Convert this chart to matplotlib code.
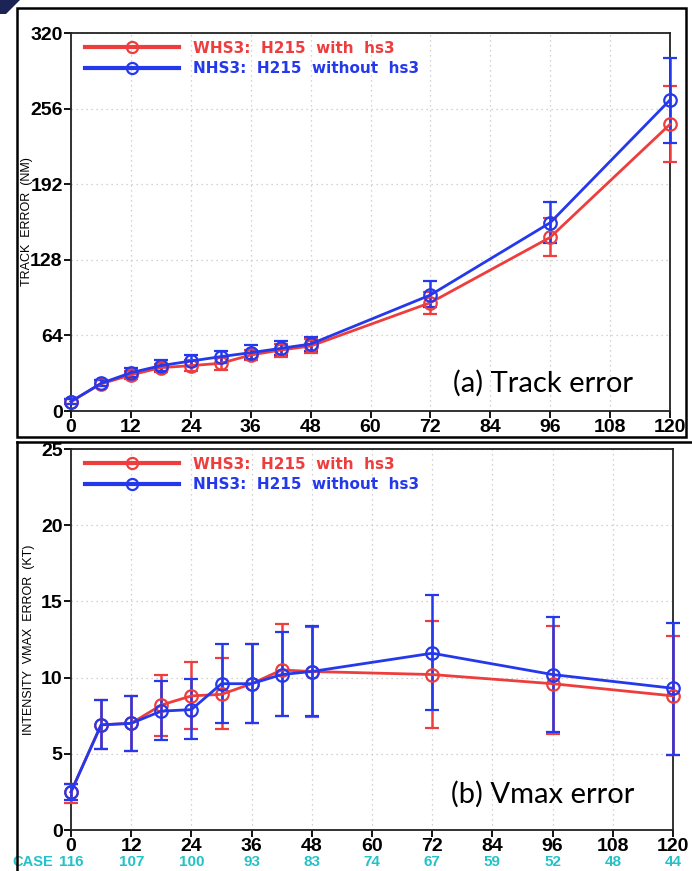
import matplotlib.pyplot as plt
from matplotlib.patches import Rectangle, Polygon
from matplotlib.lines import Line2D
from matplotlib.transforms import blended_transform_factory

# forecast hours
hours = [0, 6, 12, 18, 24, 30, 36, 42, 48, 72, 96, 120]

# (a) track error (NM)
trk_whs3 = [8, 23, 30.5, 36.7, 38.4, 40.4, 47.4, 51.6, 55, 91.7, 147, 242.7]
trk_whs3_lo = [6, 21, 27, 33, 34, 35, 43, 46, 49, 82, 131, 211]
trk_whs3_hi = [10, 26, 34, 40, 43, 46, 52, 57, 61, 101, 163, 275]
trk_nhs3 = [8, 23.4, 32.4, 38.4, 42.3, 46, 49.4, 53, 56.7, 98.2, 159.4, 263.3]
trk_nhs3_lo = [6, 21, 29, 34, 38, 41, 44, 47, 51, 88, 142, 227]
trk_nhs3_hi = [10, 26, 36, 43, 47, 51, 56, 59, 63, 110, 177, 299]

# (b) vmax error (KT)
vmx_whs3 = [2.5, 6.9, 7.0, 8.2, 8.8, 8.9, 9.6, 10.5, 10.4, 10.2, 9.6, 8.8]
vmx_whs3_lo = [1.8, 5.3, 5.2, 6.2, 6.6, 6.6, 7.0, 7.5, 7.4, 6.7, 6.3, 4.9]
vmx_whs3_hi = [3.0, 8.5, 8.8, 10.2, 11.0, 11.3, 12.2, 13.5, 13.3, 13.7, 13.4, 12.7]
vmx_nhs3 = [2.5, 6.9, 7.0, 7.8, 7.9, 9.6, 9.6, 10.2, 10.4, 11.6, 10.2, 9.3]
vmx_nhs3_lo = [2.0, 5.3, 5.2, 5.9, 6.0, 7.0, 7.0, 7.5, 7.5, 7.9, 6.4, 4.9]
vmx_nhs3_hi = [3.0, 8.5, 8.8, 9.8, 9.9, 12.2, 12.2, 13.0, 13.4, 15.4, 14.0, 13.6]

case_hours = [0, 12, 24, 36, 48, 60, 72, 84, 96, 108, 120]
case_counts = [116, 107, 100, 93, 83, 74, 67, 59, 52, 48, 44]

labels = ['WHS3:  H215  with  hs3', 'NHS3:  H215  without  hs3']
RED = '#ee3d3d'
BLUE = '#2438ec'
CYAN = '#22c2c8'
TICKFONT = ['Liberation Sans', 'DejaVu Sans']

fig = plt.figure(figsize=(6.92, 8.71), dpi=100)
W, H = 692.0, 871.0


def px_rect(x0, y0, x1, y1):
    return [x0 / W, 1 - y1 / H, (x1 - x0) / W, (y1 - y0) / H]


def draw_series(ax, y, lo, hi, color):
    err = [[v - l for v, l in zip(y, lo)], [h - v for v, h in zip(y, hi)]]
    ax.errorbar(hours, y, yerr=err, color=color, lw=2, marker='o', ms=9,
                mfc='none', mec=color, mew=1.6, capsize=5, capthick=1.8,
                elinewidth=1.8, clip_on=False, zorder=3)


def style_axis(ax, ymax, ystep):
    ax.set_xlim(0, 120)
    ax.set_ylim(0, ymax)
    ax.set_xticks(range(0, 121, 12))
    ax.set_yticks(range(0, ymax + 1, ystep))
    ax.grid(True, ls=(0, (1, 3)), color='#c4c4c4', lw=0.9)
    for s in ax.spines.values():
        s.set_linewidth(1.3)
        s.set_color('#222222')
    ax.tick_params(direction='out', length=5, width=1.3, pad=1)
    for lab in ax.get_xticklabels() + ax.get_yticklabels():
        lab.set_family(TICKFONT)
        lab.set_fontsize(14)
        lab.set_fontweight('bold')
    handles = [Line2D([], [], color=RED, lw=3, marker='o', ms=8, mfc='none', mew=1.6),
               Line2D([], [], color=BLUE, lw=3, marker='o', ms=8, mfc='none', mew=1.6)]
    leg = ax.legend(handles, labels, loc='upper left', frameon=False,
                    handlelength=6.2, handletextpad=0.9, labelspacing=0.35,
                    borderaxespad=0.1, prop={'weight': 'bold', 'size': 11},
                    bbox_to_anchor=(0.01, 1.0))
    for t, c in zip(leg.get_texts(), [RED, BLUE]):
        t.set_color(c)


# (a) track error
ax1 = fig.add_axes(px_rect(71, 33, 670, 411))
draw_series(ax1, trk_whs3, trk_whs3_lo, trk_whs3_hi, RED)
draw_series(ax1, trk_nhs3, trk_nhs3_lo, trk_nhs3_hi, BLUE)
style_axis(ax1, 320, 64)
ax1.text(0.637, 0.052, '(a) Track error', transform=ax1.transAxes,
         family=['Lato', 'DejaVu Sans'], fontsize=21, va='baseline')
fig.text(27 / W, 1 - 222 / H, 'TRACK  ERROR  (NM)', rotation=90, ha='center',
         va='center', fontsize=9, family=TICKFONT)

# (b) vmax error
ax2 = fig.add_axes(px_rect(71, 449, 673, 830))
draw_series(ax2, vmx_whs3, vmx_whs3_lo, vmx_whs3_hi, RED)
draw_series(ax2, vmx_nhs3, vmx_nhs3_lo, vmx_nhs3_hi, BLUE)
style_axis(ax2, 25, 5)
ax2.text(0.632, 0.072, '(b) Vmax error', transform=ax2.transAxes,
         family=['Lato', 'DejaVu Sans'], fontsize=21, va='baseline')
fig.text(29 / W, 1 - 640 / H, 'INTENSITY  VMAX  ERROR  (KT)', rotation=90,
         ha='center', va='center', fontsize=9, family=TICKFONT)

# case counts under bottom axis
tr = blended_transform_factory(ax2.transData, fig.transFigure)
for h, n in zip(case_hours, case_counts):
    ax2.text(h, 1 - 862 / H, str(n), transform=tr, ha='center', va='center',
             color=CYAN, fontsize=11, fontweight='bold', family=TICKFONT)
ax2.text(-3.6, 1 - 862 / H, 'CASE', transform=tr, ha='right', va='center',
         color=CYAN, fontsize=10.5, fontweight='bold', family=TICKFONT)

# panel frames and corner
fig.patches.append(Rectangle((17 / W, 1 - 437 / H), 669 / W, 429 / H,
                             transform=fig.transFigure, fill=False,
                             ec='black', lw=1.8))
fig.add_artist(Line2D([17 / W, 1.0], [1 - 442 / H, 1 - 442 / H], color='black', lw=1.8))
fig.add_artist(Line2D([17 / W, 17 / W], [1 - 442 / H, 0.0], color='black', lw=1.8))
fig.patches.append(Polygon([(0, 1), (20 / W, 1), (6 / W, 1 - 14 / H), (0, 1 - 14 / H)],
                           closed=True, transform=fig.transFigure,
                           fc='#1c2456', ec='none'))

fig.savefig('out.png', dpi=100)
